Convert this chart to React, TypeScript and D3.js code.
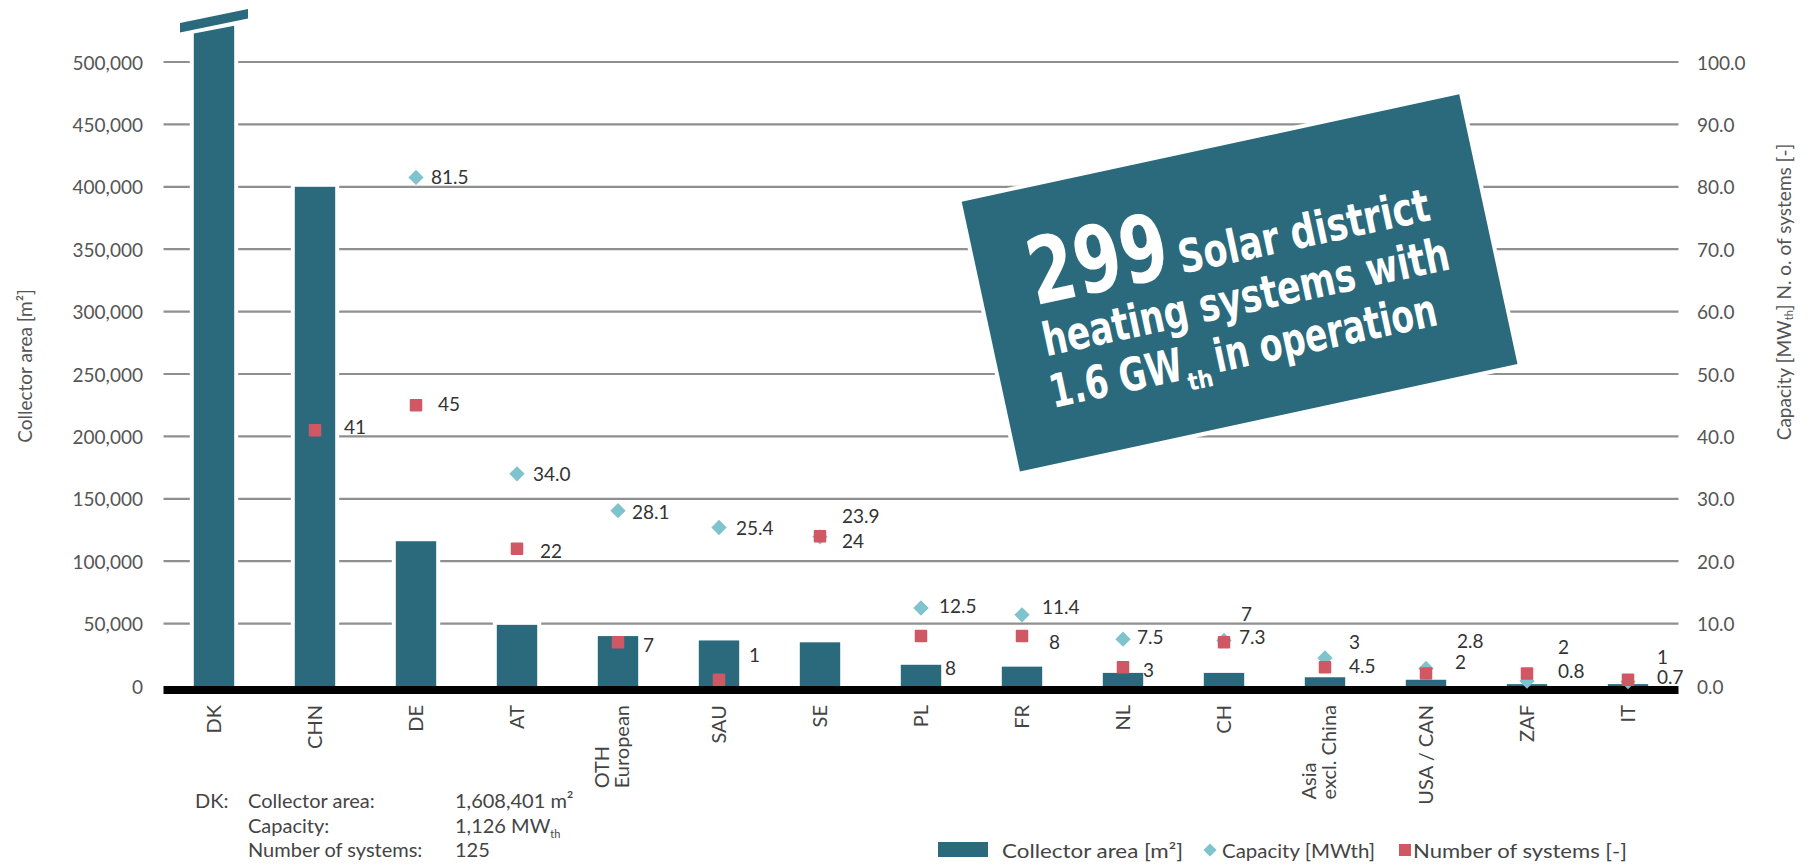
import React from "react";
import * as d3 from "d3";

// Solar district heating: collector area (bars), capacity and number of systems (markers)
const categories = [
  "DK", "CHN", "DE", "AT", "OTH\nEuropean", "SAU", "SE", "PL", "FR", "NL", "CH",
  "Asia\nexcl. China", "USA / CAN", "ZAF", "IT",
];
const collectorArea = [
  1608401, 400000, 116000, 49000, 40000, 36500, 35000, 17000, 15500, 10500, 10500, 7000, 5000, 1500, 1500,
];
const capacityMW: (number | null)[] = [
  1126, null, 81.5, 34.0, 28.1, 25.4, 23.9, 12.5, 11.4, 7.5, 7.3, 4.5, 2.8, 0.8, 0.7,
];
const systemCount: (number | null)[] = [125, 41, 45, 22, 7, 1, 24, 8, 8, 3, 7, 3, 2, 2, 1];

const areaTicks = [0, 50000, 100000, 150000, 200000, 250000, 300000, 350000, 400000, 450000, 500000];
const rightTicks = [0, 10, 20, 30, 40, 50, 60, 70, 80, 90, 100];

// label placement next to each marker [dx, dy]
const capacityNudge: [number, number][] = [
  [0, 0], [0, 0], [15, -1], [16, 0], [14, 1], [17, 0], [22, -21], [18, -3], [20, -8],
  [14, -3], [15, -4], [24, 8], [31, -28], [31, -11], [29, -5],
];
const systemsNudge: [number, number][] = [
  [0, 0], [29, -4], [22, -2], [23, 2], [25, 2], [30, -25], [22, 4], [24, 31], [27, 5],
  [20, 2], [17, -29], [24, -26], [29, -12], [31, -27], [29, -23],
];

const W = 1816;
const H = 867;
const TEAL = "#2a6a7c";
const CYAN = "#7fc3cc";
const RED = "#cf5864";
const GRID = "#8f8f8f";
const FONT = "Lato, 'Open Sans', sans-serif";
const BOX_FONT = "'Liberation Sans Narrow', 'DejaVu Sans Condensed', sans-serif";

const X0 = 163.5;
const X1 = 1678.5;
const Y0 = 686;
const YTOP = 62;
const AREA_MAX = 500000;
const BREAK_VALUE = 526000;

let measureCtx: CanvasRenderingContext2D | null = null;
function textWidth(text: string, font: string): number {
  if (!measureCtx) {
    const c = document.createElement("canvas");
    measureCtx = c.getContext("2d");
  }
  if (!measureCtx) return text.length * 10;
  measureCtx.font = font;
  return measureCtx.measureText(text).width;
}

export default function App() {
  const x = d3
    .scaleBand<string>()
    .domain(categories)
    .range([X0, X1])
    .paddingInner(0.6)
    .paddingOuter(0.3);
  const yArea = d3.scaleLinear().domain([0, AREA_MAX]).range([Y0, YTOP]);
  const yRight = d3.scaleLinear().domain([0, 100]).range([Y0, YTOP]);
  const bw = x.bandwidth();
  const cx = (c: string) => (x(c) as number) + bw / 2;
  const fmtArea = d3.format(",");
  const fmtRight = d3.format(".1f");

  const diamond = d3.symbol().type(d3.symbolDiamond2).size(150);
  const legendDiamond = d3.symbol().type(d3.symbolDiamond2).size(110);

  // bar geometry, with a slanted break for values above the axis
  const bars = categories.map((c, i) => {
    const v = collectorArea[i];
    const x0 = x(c) as number;
    const x1 = x0 + bw;
    if (v > AREA_MAX) {
      const yc = yArea(BREAK_VALUE);
      const slope = 0.19;
      const half = bw / 2;
      const pts = [
        [x0, Y0],
        [x0, yc + slope * half],
        [x1, yc - slope * half],
        [x1, Y0],
      ];
      return { c, broken: true, pts, yc };
    }
    return { c, broken: false, x0, y: yArea(v), w: bw, h: Y0 - yArea(v) };
  });

  const catFont = `20px ${FONT}`;
  const catTop = 705;
  const lineH = 20;

  // callout geometry
  const boxX = 961.7;
  const boxY = 201.7;
  const boxAngle = -12.18;
  const boxW = 509;
  const boxH = 276;

  return (
    <svg
      width={W}
      height={H}
      viewBox={`0 0 ${W} ${H}`}
      style={{ position: "absolute", left: 0, top: 0, display: "block", background: "#fff" }}
      fontFamily={FONT}
    >
      <rect x={0} y={0} width={W} height={H} fill="#fff" />

      {/* gridlines */}
      {areaTicks
        .filter((t) => t > 0)
        .map((t) => (
          <line key={`g${t}`} x1={X0} x2={X1} y1={yArea(t)} y2={yArea(t)} stroke={GRID} strokeWidth={2.2} />
        ))}

      {/* left tick labels */}
      {areaTicks.map((t) => (
        <text
          key={`l${t}`}
          x={143}
          y={yArea(t)}
          textAnchor="end"
          dominantBaseline="central"
          fontSize={19}
          fill="#555"
        >
          {fmtArea(t)}
        </text>
      ))}

      {/* right tick labels */}
      {rightTicks.map((t) => (
        <text
          key={`r${t}`}
          x={1697}
          y={yRight(t)}
          textAnchor="start"
          dominantBaseline="central"
          fontSize={19}
          fill="#555"
        >
          {fmtRight(t)}
        </text>
      ))}

      {/* axis titles */}
      <text
        transform={`translate(24, 366) rotate(-90)`}
        textAnchor="middle"
        dominantBaseline="central"
        fontSize={19}
        fill="#555"
      >
        Collector area [m²]
      </text>
      <text
        transform={`translate(1783, 292) rotate(-90)`}
        textAnchor="middle"
        dominantBaseline="central"
        fontSize={19}
        fill="#555"
      >
        Capacity [MW
        <tspan fontSize={11} dy={5}>th</tspan>
        <tspan dy={-5}>] N. o. of systems [-]</tspan>
      </text>

      {/* bar halos */}
      {bars.map((b) =>
        b.broken ? (
          <polygon
            key={`h${b.c}`}
            points={(b.pts as number[][]).map((p) => p.join(",")).join(" ")}
            fill="#fff"
            stroke="#fff"
            strokeWidth={8}
            strokeLinejoin="miter"
          />
        ) : (
          <rect
            key={`h${b.c}`}
            x={(b.x0 as number) - 4}
            y={(b.y as number) - 4}
            width={(b.w as number) + 8}
            height={(b.h as number) + 4}
            fill="#fff"
          />
        )
      )}

      {/* bars */}
      {bars.map((b) =>
        b.broken ? (
          <g key={`b${b.c}`}>
            <polygon
              points={(b.pts as number[][]).map((p) => p.join(",")).join(" ")}
              fill={TEAL}
            />
            {(() => {
              const c0 = cx(b.c);
              const yc = b.yc as number;
              const half = 34;
              const slope = 0.205;
              const lower = yc - 4;
              const upper = lower - 9.5;
              const pts = [
                [c0 - half, lower + slope * half],
                [c0 + half, lower - slope * half],
                [c0 + half, upper - slope * half],
                [c0 - half, upper + slope * half],
              ];
              return <polygon points={pts.map((p) => p.join(",")).join(" ")} fill={TEAL} />;
            })()}
          </g>
        ) : (
          <rect key={`b${b.c}`} x={b.x0 as number} y={b.y as number} width={b.w as number} height={b.h as number} fill={TEAL} />
        )
      )}

      {/* baseline */}
      <rect x={X0} y={Y0} width={X1 - X0} height={8} fill="#000" />

      {/* capacity markers */}
      {categories.map((c, i) => {
        const v = capacityMW[i];
        if (v == null || v > 100) return null;
        return (
          <path key={`d${c}`} d={diamond() as string} transform={`translate(${cx(c)}, ${yRight(v)})`} fill={CYAN} />
        );
      })}

      {/* systems markers */}
      {categories.map((c, i) => {
        const v = systemCount[i];
        if (v == null || v > 100) return null;
        const s = 12.5;
        return <rect key={`s${c}`} x={cx(c) - s / 2} y={yRight(v) - s / 2} width={s} height={s} rx={1} fill={RED} />;
      })}

      {/* marker labels */}
      {categories.map((c, i) => {
        const v = capacityMW[i];
        if (v == null || v > 100) return null;
        const [dx, dy] = capacityNudge[i];
        return (
          <text
            key={`dl${c}`}
            x={cx(c) + dx}
            y={yRight(v) + dy}
            dominantBaseline="central"
            fontSize={19}
            fill="#333"
          >
            {fmtRight(v)}
          </text>
        );
      })}
      {categories.map((c, i) => {
        const v = systemCount[i];
        if (v == null || v > 100) return null;
        const [dx, dy] = systemsNudge[i];
        return (
          <text
            key={`sl${c}`}
            x={cx(c) + dx}
            y={yRight(v) + dy}
            dominantBaseline="central"
            fontSize={19}
            fill="#333"
          >
            {v}
          </text>
        );
      })}

      {/* category labels */}
      {categories.map((c) => {
        const lines = c.split("\n");
        const center = cx(c);
        if (lines.length === 1) {
          return (
            <text
              key={`c${c}`}
              transform={`translate(${center - 1}, ${catTop}) rotate(-90)`}
              textAnchor="end"
              dominantBaseline="central"
              fontSize={20}
              fill="#444"
            >
              {c}
            </text>
          );
        }
        const longest = Math.max(...lines.map((l) => textWidth(l, catFont)));
        const startY = catTop + longest;
        return (
          <g key={`c${c}`}>
            {lines.map((l, k) => (
              <text
                key={k}
                transform={`translate(${center - 7 + (k - (lines.length - 1) / 2) * lineH}, ${startY}) rotate(-90)`}
                textAnchor="start"
                dominantBaseline="central"
                fontSize={20}
                fill="#444"
              >
                {l}
              </text>
            ))}
          </g>
        );
      })}

      {/* DK note */}
      <g fontSize={20} fill="#444">
        <text x={195} y={808}>DK:</text>
        <text x={248} y={808}>Collector area:</text>
        <text x={455} y={808}>1,608,401 m²</text>
        <text x={248} y={833}>Capacity:</text>
        <text x={455} y={833}>
          1,126 MW<tspan fontSize={11} dy={5}>th</tspan>
        </text>
        <text x={248} y={857}>Number of systems:</text>
        <text x={455} y={857}>125</text>
      </g>

      {/* legend */}
      <g fontSize={19} fill="#444">
        <rect x={938} y={842} width={50} height={15} fill={TEAL} />
        <text x={1002} y={850} dominantBaseline="central" textLength={181} lengthAdjust="spacingAndGlyphs">
          Collector area [m²]
        </text>
        <path d={legendDiamond() as string} transform="translate(1210, 850)" fill={CYAN} />
        <text x={1222} y={850} dominantBaseline="central" textLength={153} lengthAdjust="spacingAndGlyphs">
          Capacity [MWth]
        </text>
        <rect x={1399} y={844} width={12} height={12} fill={RED} />
        <text x={1413} y={850} dominantBaseline="central" textLength={214} lengthAdjust="spacingAndGlyphs">
          Number of systems [-]
        </text>
      </g>

      {/* callout */}
      <g transform={`translate(${boxX}, ${boxY}) rotate(${boxAngle})`}>
        <rect x={-4} y={-4} width={boxW + 8} height={boxH + 8} fill="#fff" />
        <rect x={0} y={0} width={boxW} height={boxH} fill={TEAL} />
        <g fill="#fff" fontFamily={BOX_FONT} fontWeight="bold">
          <text x={50} y={117} fontSize={92} textLength={141} lengthAdjust="spacingAndGlyphs">
            299
          </text>
          <text x={200} y={117} fontSize={46} textLength={256} lengthAdjust="spacingAndGlyphs">
            Solar district
          </text>
          <text x={50} y={169} fontSize={46} textLength={415} lengthAdjust="spacingAndGlyphs">
            heating systems with
          </text>
          <text x={46} y={221} fontSize={46} textLength={135} lengthAdjust="spacingAndGlyphs">
            1.6 GW
          </text>
          <text x={183} y={233} fontSize={24}>
            th
          </text>
          <text x={214} y={221} fontSize={46} textLength={227} lengthAdjust="spacingAndGlyphs">
            in operation
          </text>
        </g>
      </g>
    </svg>
  );
}
